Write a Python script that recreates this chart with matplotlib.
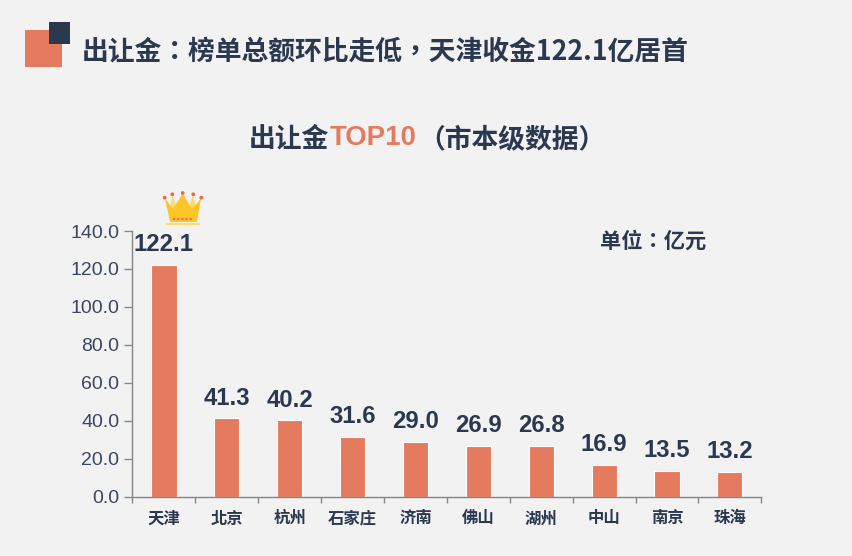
import matplotlib
matplotlib.use("Agg")
import matplotlib.pyplot as plt
from matplotlib.patches import Rectangle, Polygon, Circle

plt.rcParams['font.family'] = ['Noto Sans CJK TC', 'DejaVu Sans']

ciudades = ["天津", "北京", "杭州", "石家庄", "济南", "佛山", "湖州", "中山", "南京", "珠海"]
valores = [122.1, 41.3, 40.2, 31.6, 29.0, 26.9, 26.8, 16.9, 13.5, 13.2]
ticks_y = [0, 20, 40, 60, 80, 100, 120, 140]

titulo = "出让金：榜单总额环比走低，天津收金122.1亿居首"
subtitulo = ["出让金", "TOP10", "（市本级数据）"]
unidad = "单位：亿元"

W, H = 853, 556
NARANJA = "#e57b5e"
AZUL = "#2a3850"
GRIS = "#868686"
FONDO = "#f2f2f2"

fig = plt.figure(figsize=(W / 100, H / 100), dpi=100, facecolor=FONDO)
capa = fig.add_axes([0, 0, 1, 1])
capa.set_xlim(0, W)
capa.set_ylim(H, 0)
capa.axis("off")

# cuadros del encabezado
capa.add_patch(Rectangle((25, 30), 37, 37, color=NARANJA, lw=0))
capa.add_patch(Rectangle((49, 22), 21, 22, color=AZUL, lw=0))
capa.text(82, 52, titulo, fontsize=19.3, fontweight="bold", color=AZUL, va="center")

capa.text(249, 139, subtitulo[0], fontsize=19.3, fontweight="bold", color=AZUL, va="center")
capa.text(330, 138, subtitulo[1], fontsize=19.9, fontweight="bold", color=NARANJA, va="center",
          family="Liberation Sans")
capa.text(418, 139, subtitulo[2], fontsize=19.3, fontweight="bold", color=AZUL, va="center")
capa.text(600, 241, unidad, fontsize=15.3, fontweight="bold", color=AZUL, va="center")

# corona
oro = "#fdc526"
palido = "#fedc6a"
capa.add_patch(Polygon([(169, 212), (172.5, 195), (178, 212)], color=palido, lw=0))
capa.add_patch(Polygon([(187, 212), (193, 195), (197, 212)], color=palido, lw=0))
capa.add_patch(Polygon([(165, 198.5), (170, 222), (197, 222), (201, 198.5), (192, 209), (182.7, 193.5),
                        (173, 209)], color=oro, lw=0))
capa.add_patch(Rectangle((166, 222.7), 34, 2.7, color=palido, lw=0))
for cx, cy in [(164.7, 197.7), (172.3, 194.3), (182.7, 193), (193.3, 194.3), (201.3, 197.7)]:
    capa.add_patch(Circle((cx, cy), 1.9, color="#f2654a", lw=0))
capa.plot([173, 192], [219.4, 219.4], color="#f2654a", lw=1.5, ls=(0, (1, 1)))

ax = fig.add_axes([132.5 / W, 1 - 496.8 / H, (761.3 - 132.5) / W, (496.8 - 231) / H])
ax.set_facecolor("none")
x = range(len(ciudades))
ax.bar(x, valores, width=0.4, color=NARANJA, edgecolor="white", linewidth=0.8)
ax.set_xlim(-0.5, len(ciudades) - 0.5)
ax.set_ylim(0, 140)

for i, v in enumerate(valores):
    ax.annotate(f"{v:.1f}", (i, v), xytext=(0, 6.3), textcoords="offset points", ha="center", va="bottom",
                fontsize=17.2, fontweight="bold", color=AZUL, family="Liberation Sans")

for lado in ["top", "right"]:
    ax.spines[lado].set_visible(False)
for lado in ["left", "bottom"]:
    ax.spines[lado].set_color(GRIS)
    ax.spines[lado].set_linewidth(1)

ax.set_yticks(ticks_y)
ax.set_yticklabels([f"{t:.1f}" for t in ticks_y], fontsize=14, color="#3a475e", family="Liberation Sans")
ax.tick_params(axis="y", length=6, width=1, color=GRIS, pad=3.5)

# marcas entre categorias, etiquetas centradas
ax.set_xticks([i - 0.5 for i in range(len(ciudades) + 1)])
ax.set_xticklabels([])
ax.tick_params(axis="x", length=4, width=1, color=GRIS)
for i, c in enumerate(ciudades):
    ax.annotate(c, (i, 0), xytext=(0, -15.5), textcoords="offset points", ha="center", va="center",
                fontsize=11.8, color=AZUL, fontweight="bold")

fig.savefig("out.png", dpi=100, facecolor=FONDO)
